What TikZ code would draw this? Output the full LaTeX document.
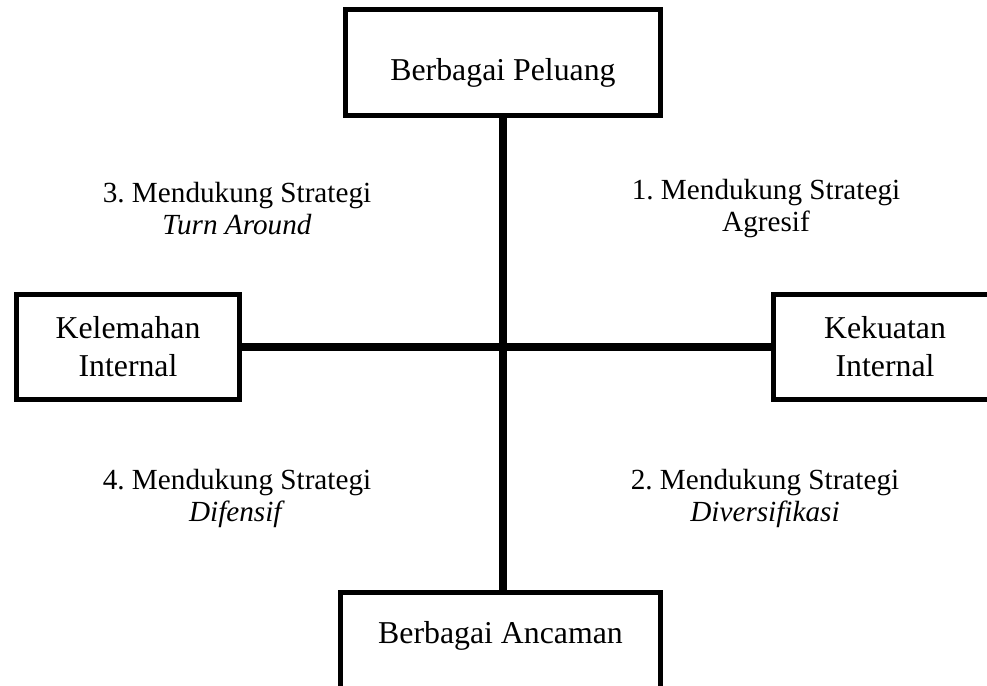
\documentclass[tikz,border=0pt]{standalone}
\usepackage{fontspec}
\setmainfont{Liberation Serif}
\usepackage{tikz}
\usetikzlibrary{positioning, calc}
\definecolor{InkBlack}{HTML}{000000}
\frenchspacing

\begin{document}
\begin{tikzpicture}[x=0.5pt, y=-0.5pt,
    every node/.style={font=\fontsize{15.9}{19}\selectfont, text=InkBlack},
    sidebox/.style={draw=InkBlack, line width=2.5pt, fill=white, align=center,
                    inner sep=0pt},
    quadtext/.style={align=center, font=\fontsize{14.6}{16}\selectfont},
    axisline/.style={InkBlack, line width=4pt}]
    % Page frame
    \useasboundingbox (0,0) rectangle (987,686);
    \clip (0,0) rectangle (987,686);

    % Boxes at the four ends of the axes
    \node[sidebox, minimum width=157.5pt, minimum height=53pt,
          text height=21pt, text depth=3.5pt] (peluang) at (503,62.5) {Berbagai Peluang};
    \node[sidebox, minimum width=160pt, minimum height=53pt,
          text height=11pt, text depth=13.5pt] (ancaman) at (500.5,645.5) {Berbagai Ancaman};
    \node[sidebox, minimum width=111.5pt, minimum height=52.5pt] (kelemahan) at (128,347) {Kelemahan\\Internal};
    \node[sidebox, minimum width=111.5pt, minimum height=52.5pt] (kekuatan) at (885,347) {Kekuatan\\Internal};

    % Axes
    \draw[axisline] (peluang.south) -- (peluang.south |- ancaman.north);
    \draw[axisline] (kelemahan.east) -- (kekuatan.west);

    % Quadrants
    \node[quadtext] (agresif) at (766,209) {1. Mendukung Strategi\\Agresif};
    \node[quadtext] (diversifikasi) at (765,498) {2. Mendukung Strategi\\\textit{Diversifikasi}};
    \node[quadtext] (turnaround) at (237,209) {3. Mendukung Strategi\\\textit{Turn Around}};
    \node[quadtext] (difensif) at (237,498) {4. Mendukung Strategi\\\textit{Difensif}};
\end{tikzpicture}
\end{document}
